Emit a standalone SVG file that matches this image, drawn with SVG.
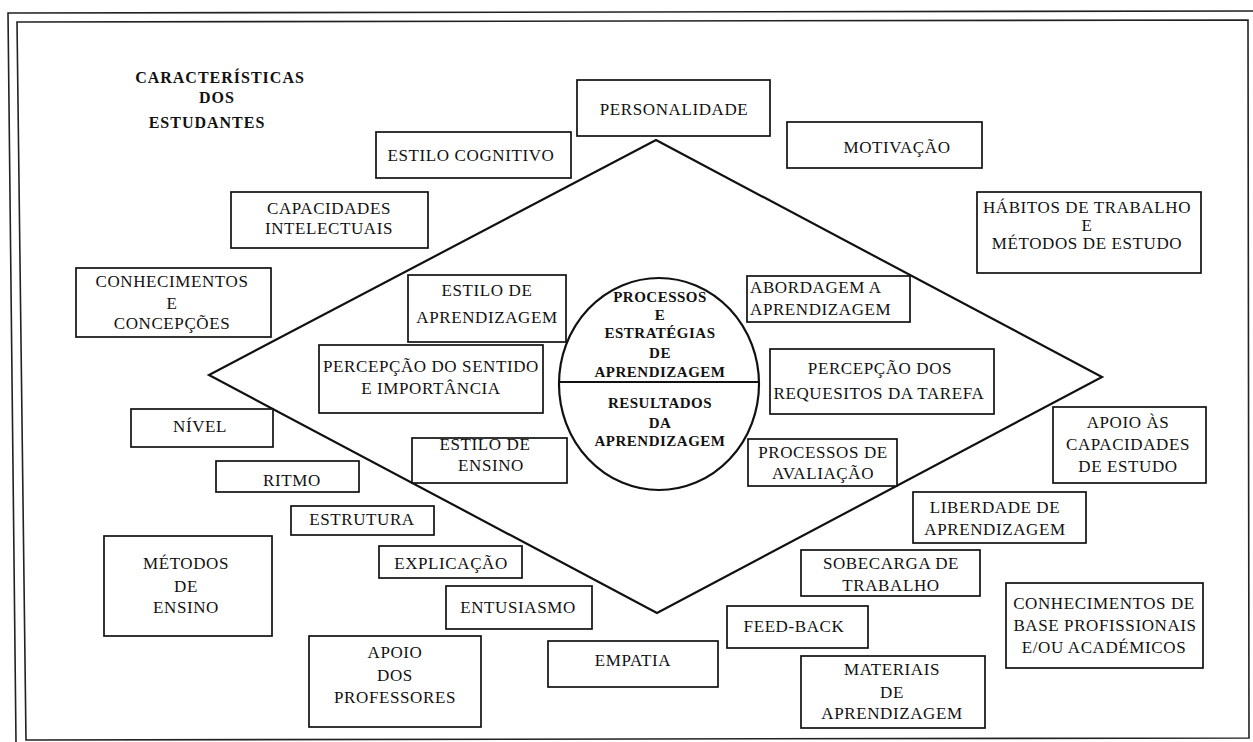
<svg xmlns="http://www.w3.org/2000/svg" width="1253" height="742" viewBox="0 0 1253 742">
<style>
  .bg { fill: #ffffff; }
  .frame { fill: none; stroke: #222; stroke-width: 1.6; }
  .box { fill: #ffffff; stroke: #111; stroke-width: 1.7; }
  .shape { fill: none; stroke: #111; stroke-width: 2.2; }
  text { font-family: "Liberation Serif", "Times New Roman", serif; fill: #111; }
  .t { font-size: 17px; letter-spacing: 0.6px; text-anchor: middle; }
  .ts { font-size: 17px; letter-spacing: 0.6px; text-anchor: start; }
  .b { font-size: 15px; font-weight: bold; letter-spacing: 0.5px; text-anchor: middle; }
  .h { font-size: 16px; font-weight: bold; letter-spacing: 1px; text-anchor: middle; }
</style>
<rect class="bg" x="0" y="0" width="1253" height="742"/>
<g id="border">
  <polyline class="frame" points="16,742 8,13 1253,11"/>
  <polygon class="frame" points="17,22 1248,20 1249,738 26,740"/>
</g>
<g id="connectors">
  <polygon class="shape" points="656,140 1102,377 657,613 209,375"/>
</g>
<g id="centre">
  <ellipse class="shape" cx="659" cy="384" rx="100" ry="106"/>
  <line class="shape" x1="559" y1="382" x2="759" y2="382"/>
  <text class="b" x="660" y="302">PROCESSOS</text>
  <text class="b" x="660" y="320">E</text>
  <text class="b" x="660" y="338">ESTRATÉGIAS</text>
  <text class="b" x="660" y="358">DE</text>
  <text class="b" x="660" y="377">APRENDIZAGEM</text>
  <text class="b" x="660" y="408">RESULTADOS</text>
  <text class="b" x="660" y="428">DA</text>
  <text class="b" x="660" y="446">APRENDIZAGEM</text>
</g>
<g id="title">
  <text class="h" x="220" y="83">CARACTERÍSTICAS</text>
  <text class="h" x="217" y="103">DOS</text>
  <text class="h" x="207" y="128">ESTUDANTES</text>
</g>
<g id="personalidade">
  <rect class="box" x="577" y="80" width="193" height="56"/>
  <text class="t" x="674" y="115">PERSONALIDADE</text>
</g>
<g id="estilo-cognitivo">
  <rect class="box" x="376" y="132" width="195" height="46"/>
  <text class="t" x="471" y="161">ESTILO COGNITIVO</text>
</g>
<g id="motivacao">
  <rect class="box" x="787" y="122" width="195" height="46"/>
  <text class="t" x="897" y="153">MOTIVAÇÃO</text>
</g>
<g id="habitos">
  <rect class="box" x="977" y="192" width="224" height="81"/>
  <text class="t" x="1087" y="213">HÁBITOS DE TRABALHO</text>
  <text class="t" x="1087" y="231">E</text>
  <text class="t" x="1087" y="249">MÉTODOS DE ESTUDO</text>
</g>
<g id="capacidades">
  <rect class="box" x="231" y="192" width="197" height="56"/>
  <text class="t" x="329" y="214">CAPACIDADES</text>
  <text class="t" x="329" y="234">INTELECTUAIS</text>
</g>
<g id="conhecimentos">
  <rect class="box" x="76" y="268" width="195" height="69"/>
  <text class="t" x="172" y="287">CONHECIMENTOS</text>
  <text class="t" x="172" y="309">E</text>
  <text class="t" x="172" y="329">CONCEPÇÕES</text>
</g>
<g id="estilo-aprendizagem">
  <rect class="box" x="408" y="275" width="158" height="67"/>
  <text class="t" x="487" y="296">ESTILO DE</text>
  <text class="t" x="487" y="323">APRENDIZAGEM</text>
</g>
<g id="percepcao-sentido">
  <rect class="box" x="319" y="345" width="224" height="68"/>
  <text class="t" x="431" y="372">PERCEPÇÃO DO SENTIDO</text>
  <text class="t" x="431" y="394">E IMPORTÂNCIA</text>
</g>
<g id="estilo-ensino">
  <rect class="box" x="412" y="438" width="155" height="45"/>
  <text class="t" x="485" y="450">ESTILO DE</text>
  <text class="t" x="491" y="471">ENSINO</text>
</g>
<g id="nivel">
  <rect class="box" x="131" y="409" width="142" height="38"/>
  <text class="t" x="200" y="432">NÍVEL</text>
</g>
<g id="ritmo">
  <rect class="box" x="216" y="461" width="143" height="31"/>
  <text class="t" x="292" y="486">RITMO</text>
</g>
<g id="estrutura">
  <rect class="box" x="291" y="506" width="143" height="29"/>
  <text class="t" x="362" y="525">ESTRUTURA</text>
</g>
<g id="explicacao">
  <rect class="box" x="379" y="546" width="143" height="32"/>
  <text class="t" x="451" y="569">EXPLICAÇÃO</text>
</g>
<g id="entusiasmo">
  <rect class="box" x="446" y="586" width="146" height="43"/>
  <text class="t" x="518" y="613">ENTUSIASMO</text>
</g>
<g id="metodos-ensino">
  <rect class="box" x="104" y="536" width="168" height="100"/>
  <text class="t" x="186" y="569">MÉTODOS</text>
  <text class="t" x="186" y="592">DE</text>
  <text class="t" x="186" y="613">ENSINO</text>
</g>
<g id="apoio-professores">
  <rect class="box" x="309" y="636" width="172" height="91"/>
  <text class="t" x="395" y="658">APOIO</text>
  <text class="t" x="395" y="681">DOS</text>
  <text class="t" x="395" y="703">PROFESSORES</text>
</g>
<g id="empatia">
  <rect class="box" x="548" y="641" width="170" height="46"/>
  <text class="t" x="633" y="666">EMPATIA</text>
</g>
<g id="feedback">
  <rect class="box" x="727" y="606" width="141" height="42"/>
  <text class="t" x="794" y="632">FEED-BACK</text>
</g>
<g id="sobrecarga">
  <rect class="box" x="801" y="550" width="179" height="46"/>
  <text class="t" x="891" y="569">SOBECARGA DE</text>
  <text class="t" x="891" y="591">TRABALHO</text>
</g>
<g id="materiais">
  <rect class="box" x="801" y="656" width="184" height="72"/>
  <text class="t" x="892" y="675">MATERIAIS</text>
  <text class="t" x="892" y="698">DE</text>
  <text class="t" x="892" y="719">APRENDIZAGEM</text>
</g>
<g id="liberdade">
  <rect class="box" x="913" y="492" width="173" height="51"/>
  <text class="t" x="995" y="513">LIBERDADE DE</text>
  <text class="t" x="995" y="535">APRENDIZAGEM</text>
</g>
<g id="apoio-capacidades">
  <rect class="box" x="1053" y="407" width="153" height="76"/>
  <text class="t" x="1128" y="428">APOIO ÀS</text>
  <text class="t" x="1128" y="450">CAPACIDADES</text>
  <text class="t" x="1128" y="472">DE ESTUDO</text>
</g>
<g id="percepcao-requisitos">
  <rect class="box" x="770" y="349" width="224" height="65"/>
  <text class="t" x="880" y="374">PERCEPÇÃO DOS</text>
  <text class="t" x="879" y="399">REQUESITOS DA TAREFA</text>
</g>
<g id="abordagem">
  <rect class="box" x="747" y="276" width="163" height="46"/>
  <text class="ts" x="750" y="293">ABORDAGEM A</text>
  <text class="ts" x="750" y="315">APRENDIZAGEM</text>
</g>
<g id="avaliacao">
  <rect class="box" x="748" y="439" width="149" height="47"/>
  <text class="t" x="823" y="458">PROCESSOS DE</text>
  <text class="t" x="823" y="479">AVALIAÇÃO</text>
</g>
<g id="conhecimentos-base">
  <rect class="box" x="1006" y="583" width="197" height="85"/>
  <text class="t" x="1104" y="609">CONHECIMENTOS DE</text>
  <text class="t" x="1105" y="631">BASE PROFISSIONAIS</text>
  <text class="t" x="1104" y="653">E/OU ACADÉMICOS</text>
</g>
</svg>
